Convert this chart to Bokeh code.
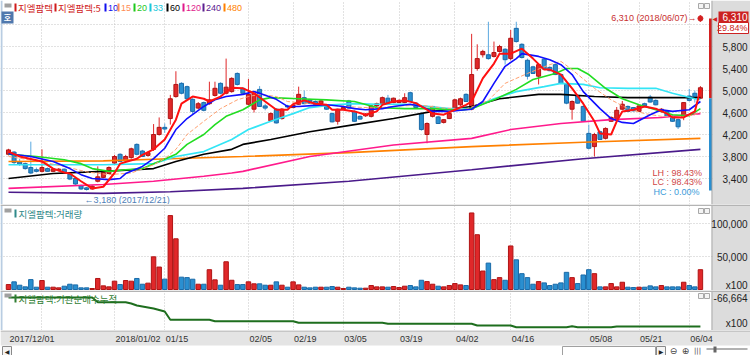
from bokeh.plotting import figure
from bokeh.layouts import column
from bokeh.models import Range1d, Grid, FixedTicker, Label, BoxAnnotation, ColumnDataSource
from bokeh.core.properties import value
from bokeh.embed import file_html
from bokeh.resources import INLINE

# ---------------- data ----------------
date_tick_idx = [0, 19, 28, 43, 51, 60, 70, 80, 90, 104, 113, 122]
date_labels = ["2017/12/01", "2018/01/02", "01/15", "02/05", "02/19", "03/05",
               "03/19", "04/02", "04/16", "05/08", "05/21", "06/04"]
grid_idx = [6, 19, 28, 43, 51, 60, 70, 80, 90, 104, 113, 122]

opens = [
    3840, 3880, 3700, 3670, 3600, 3560, 3530, 3580, 3530, 3550,
    3570, 3480, 3400, 3270, 3230, 3210, 3350, 3420, 3490, 3680,
    3840, 3720, 3780, 4020, 3900, 3820, 3930, 4200, 4330, 4490,
    4890, 5130, 5070, 4840, 4680, 4780, 4760, 4910, 5130, 4950,
    4980, 5310, 5040, 4750, 4660, 5020, 4720, 4450, 4660, 4490,
    4720, 4690, 4750, 4870, 4830, 4800, 4760, 4710, 4580, 4440,
    4660, 4810, 4620, 4530, 4540, 4530, 4720, 4760, 4860, 4780,
    4780, 4780, 4960, 4770, 4580, 4200, 4530, 4520, 4420, 4490,
    4670, 4740, 4930, 4660, 5400, 5650, 5650, 5620, 5710, 5750,
    5580, 6130, 5840, 5550, 5430, 5260, 5570, 5420, 5470, 5290,
    5110, 4660, 4900, 4710, 4220, 3980, 4250, 4130, 4440, 4490,
    4660, 4710, 4690, 4620, 4760, 4880, 4820, 4620, 4620, 4530,
    4470, 4530, 4900, 4950, 4860]
highs = [
    3940, 3900, 3760, 3690, 4070, 3600, 3930, 3600, 3590, 3590,
    3580, 3520, 3420, 3290, 3250, 3280, 3620, 3530, 3620, 3830,
    3860, 3830, 3960, 4040, 3920, 3890, 4390, 4510, 4400, 4920,
    5350, 5150, 5090, 4860, 4790, 4800, 5160, 5160, 5150, 5580,
    5240, 5330, 5060, 5210, 4960, 5080, 4760, 4600, 4680, 4680,
    4740, 4750, 5070, 5000, 4850, 4820, 4830, 4730, 4600, 4670,
    4710, 4830, 4640, 4550, 4590, 4730, 4780, 4890, 4920, 4870,
    4840, 4950, 4980, 4790, 4600, 4420, 4720, 4540, 4480, 4600,
    4850, 4870, 4950, 6030, 5840, 5740, 6250, 5890, 5830, 5770,
    6100, 6250, 5860, 5580, 5450, 5490, 5590, 5440, 5490, 5310,
    5120, 4820, 4920, 4730, 4380, 4230, 4270, 4330, 4530, 4700,
    4810, 4730, 4700, 4730, 4780, 4920, 4840, 4680, 4640, 4550,
    4490, 4790, 5030, 5000, 5080]
lows = [
    3820, 3660, 3630, 3560, 3480, 3510, 3510, 3520, 3520, 3530,
    3490, 3370, 3280, 3190, 3180, 3200, 3330, 3410, 3480, 3660,
    3700, 3700, 3760, 3820, 3790, 3800, 3900, 4180, 4230, 4380,
    4870, 4930, 4830, 4560, 4660, 4620, 4740, 4890, 4930, 4930,
    4960, 5090, 4930, 4730, 4600, 4700, 4640, 4430, 4400, 4470,
    4680, 4680, 4740, 4750, 4760, 4720, 4750, 4650, 4420, 4380,
    4650, 4670, 4430, 4470, 4520, 4510, 4700, 4750, 4760, 4770,
    4770, 4770, 4790, 4680, 4270, 4040, 4510, 4390, 4400, 4480,
    4650, 4720, 4790, 4640, 5360, 5600, 5560, 5600, 5690, 5470,
    5550, 5870, 5580, 5200, 5300, 5110, 5380, 5350, 5280, 5120,
    4750, 4470, 4760, 4430, 3930, 3800, 4100, 4110, 4430, 4480,
    4650, 4610, 4620, 4610, 4710, 4780, 4730, 4600, 4520, 4430,
    4300, 4460, 4800, 4780, 4850]
closes = [
    3920, 3690, 3660, 3580, 3500, 3530, 3600, 3530, 3570, 3570,
    3500, 3390, 3300, 3210, 3200, 3260, 3430, 3510, 3600, 3800,
    3710, 3800, 3940, 3840, 3800, 3870, 4200, 4330, 4300, 4850,
    5110, 4950, 4850, 4620, 4760, 4640, 4830, 5040, 4950, 5060,
    5220, 5110, 4950, 4930, 4950, 4710, 4680, 4580, 4410, 4660,
    4700, 4730, 4930, 4760, 4770, 4740, 4810, 4660, 4430, 4660,
    4690, 4680, 4440, 4480, 4570, 4720, 4760, 4870, 4770, 4860,
    4820, 4870, 4800, 4690, 4290, 4400, 4710, 4400, 4470, 4580,
    4830, 4850, 4800, 5290, 5580, 5710, 5580, 5690, 5800, 5560,
    5950, 5890, 5600, 5260, 5310, 5470, 5390, 5360, 5290, 5130,
    4770, 4800, 4770, 4440, 3950, 4200, 4110, 4310, 4510, 4640,
    4750, 4620, 4630, 4720, 4720, 4790, 4740, 4660, 4530, 4440,
    4340, 4780, 4820, 4860, 5050]

volumes = [  # x100 shares
    7500, 11600, 6500, 4000, 15000, 3500, 13600, 3500, 3500, 2500,
    5000, 8000, 7000, 2500, 2500, 1500, 16700, 5500, 4000, 12600,
    7500, 13600, 12600, 16700, 8000, 9600, 49500, 34000, 15700, 112000,
    76800, 18700, 18000, 15600, 8000, 8000, 30000, 14600, 6500, 42000,
    14000, 7500, 7500, 11600, 8600, 8600, 6500, 6500, 11600, 6500,
    3500, 11600, 7000, 3500, 2500, 3500, 3500, 3500, 4500, 3500,
    1500, 3500, 2500, 2000, 2000, 6000, 4000, 4000, 3500, 4500,
    3000, 5000, 6000, 4000, 14000, 12000, 8000, 5000, 4000, 6000,
    9000, 7000, 6000, 116000, 83000, 28000, 40000, 15000, 18000, 14000,
    66000, 45000, 24000, 18000, 8000, 12000, 10000, 6000, 8000, 10000,
    26000, 18000, 9000, 22000, 30000, 24000, 4000, 4000, 9000, 4000,
    11000, 3500, 3000, 3500, 3500, 5500, 4000, 6000, 4000, 4000,
    4000, 11000, 6000, 4000, 30000]

inst_cum = [  # institutional cumulative net buying, x100
    -66664, -66664, -66664, -66664, -66664, -66664, -66664, -66664, -66664, -66664,
    -66664, -66664, -66664, -66664, -66664, -66664, -76060, -76060, -76060, -76060,
    -76060, -76060, -78660, -82660, -84660, -86660, -88660, -91660, -94660, -111260,
    -111260, -111260, -111260, -111260, -111260, -111260, -111260, -114060, -114060, -114060,
    -114060, -114060, -114060, -114060, -114060, -114060, -114060, -114060, -114060, -114060,
    -114060, -114060, -117260, -117260, -117260, -117260, -117260, -117260, -117260, -117260,
    -117260, -117260, -117260, -117260, -117260, -117260, -117260, -117260, -119260, -119260,
    -119260, -119260, -119260, -119260, -119260, -119260, -119260, -119260, -119260, -119260,
    -119260, -119260, -119260, -119260, -122660, -122660, -122660, -122660, -122660, -122660,
    -122660, -126060, -126060, -126060, -126060, -126060, -126060, -126060, -126060, -126060,
    -126060, -124060, -126060, -126060, -126060, -126060, -126060, -126060, -126060, -124660,
    -124660, -124660, -124660, -124660, -124660, -124660, -124660, -124660, -124660, -124660,
    -124660, -124660, -124660, -124660, -124660]

ma5_idx = [0, 2, 6, 8, 10, 11, 13, 15, 17, 19, 20, 23, 24, 26, 28, 30, 31, 33, 35, 36,
           38, 40, 42, 44, 46, 48, 50, 51, 53, 55, 57, 58, 60, 62, 64, 66, 67, 69, 71, 73,
           75, 76, 78, 80, 82, 83, 85, 87, 88, 90, 92, 94, 96, 97, 99, 101, 103, 105, 106, 108,
           109, 110, 112, 114, 116, 118, 119, 121, 123, 124]
ma5 = [3890, 3800, 3710, 3580, 3510, 3490, 3350, 3220, 3250, 3500, 3670, 3760, 3830, 3930, 4110,
       4470, 4760, 4890, 4850, 4800, 4890, 5050, 5040, 4950, 4800, 4650, 4650, 4750, 4820, 4760,
       4740, 4650, 4650, 4620, 4560, 4620, 4740, 4800, 4820, 4770, 4650, 4580, 4560, 4650, 4740,
       4800, 5220, 5490, 5670, 5670, 5760, 5580, 5380, 5380, 5290, 5040, 4760, 4440, 4220, 4200,
       4440, 4620, 4650, 4710, 4670, 4580, 4510, 4510, 4620, 5020]
ma10_idx = [0, 4, 8, 11, 13, 15, 18, 20, 21, 24, 26, 28, 30, 32, 35, 37, 39, 42, 44, 45,
            48, 50, 52, 55, 57, 60, 62, 64, 67, 69, 72, 74, 76, 79, 81, 83, 85, 87, 89, 91,
            92, 95, 97, 99, 101, 103, 106, 108, 110, 112, 115, 117, 119, 122, 124]
ma10 = [3850, 3800, 3710, 3580, 3470, 3400, 3380, 3400, 3490, 3620, 3760, 3950, 4290, 4490, 4710,
        4830, 4890, 4930, 4980, 4950, 4840, 4710, 4710, 4730, 4740, 4710, 4670, 4650, 4670, 4710,
        4750, 4710, 4620, 4620, 4640, 4660, 4800, 5130, 5440, 5580, 5670, 5620, 5560, 5470, 5290,
        4980, 4670, 4490, 4420, 4400, 4560, 4650, 4620, 4650, 4800]
ma15_idx = [0, 5, 10, 14, 18, 22, 26, 28, 30, 32, 35, 38, 41, 43, 45, 48, 50, 54, 58, 62,
            66, 70, 74, 78, 82, 86, 89, 93, 97, 99, 101, 105, 108, 111, 114, 117, 120, 123, 124]
ma15 = [3800, 3720, 3620, 3520, 3470, 3500, 3650, 3760, 3930, 4200, 4440, 4670, 4830, 4890, 4930,
        4890, 4800, 4760, 4730, 4700, 4680, 4720, 4730, 4680, 4660, 4820, 5130, 5310, 5470, 5530,
        5380, 5040, 4830, 4670, 4580, 4530, 4510, 4560, 4600]
ma20_idx = [0, 5, 10, 13, 15, 18, 21, 24, 27, 30, 32, 35, 37, 39, 42, 43, 45, 47, 52, 57,
            62, 66, 71, 76, 81, 83, 87, 91, 94, 98, 100, 102, 104, 107, 110, 113, 116, 119, 122, 124]
ma20 = [3840, 3800, 3740, 3670, 3580, 3530, 3560, 3580, 3710, 3840, 4020, 4200, 4380, 4530, 4650,
        4710, 4830, 4870, 4850, 4830, 4800, 4690, 4670, 4670, 4640, 4670, 4830, 5020, 5200, 5310,
        5400, 5400, 5290, 5040, 4850, 4740, 4650, 4560, 4540, 4670]
ma33_idx = [0, 8, 17, 26, 30, 35, 40, 43, 47, 51, 54, 58, 62, 66, 71, 75, 79, 83, 87, 91,
            96, 99, 103, 106, 111, 116, 119, 123, 124]
ma33 = [3650, 3650, 3650, 3670, 3800, 3890, 4110, 4290, 4440, 4580, 4690, 4740, 4760, 4750, 4750,
        4710, 4670, 4670, 4850, 4980, 5070, 5130, 5110, 5050, 5040, 5040, 4950, 4850, 4840]
ma60_idx = [0, 8, 17, 26, 30, 35, 40, 42, 47, 54, 62, 69, 76, 83, 88, 95, 99, 105, 111, 117, 124]
ma60 = [3400, 3490, 3530, 3580, 3710, 3840, 3930, 4020, 4110, 4250, 4380, 4490, 4620, 4710, 4850,
        4930, 4930, 4890, 4870, 4870, 4870]
ma120_idx = [0, 17, 26, 35, 40, 42, 54, 69, 83, 90, 99, 108, 117, 124]
ma120 = [3220, 3290, 3350, 3440, 3500, 3530, 3800, 4010, 4130, 4290, 4400, 4470, 4510, 4580]
ma240_idx = [0, 17, 29, 42, 61, 83, 103, 124]
ma240 = [3150, 3130, 3160, 3220, 3350, 3560, 3760, 3930]
ma480_idx = [0, 17, 29, 42, 61, 83, 103, 124]
ma480 = [3710, 3720, 3760, 3800, 3870, 3980, 4060, 4130]

price_ticks = [5800, 5400, 5000, 4600, 4200, 3800, 3400]
price_grid = [3400, 3800, 4200, 4600, 5000, 5400, 5800, 6200]
vol_ticks = [100000, 50000]
last_price = 6310
last_change = "29.84%"
last_date = "2018/06/07"
prev_close = 4860
low_date = "2017/12/21"
stats = [("LH :  98.43%", "#d04848"), ("LC :  98.43%", "#d04848"), ("HC :   0.00%", "#3a9ad9")]

legend_items = [("지엘팜텍", "#d01c1c"), ("지엘팜텍:5", "#d01c1c"), ("10", "#1010ee"),
                ("15", "#ff8c55"), ("20", "#1ec81e"), ("33", "#18c8dc"), ("60", "#000000"),
                ("120", "#e0188c"), ("240", "#5a2090"), ("480", "#ff8000")]

# ---------------- layout helpers ----------------
W = 750
PX_PER_DAY = 5.58
X_AT_PX0 = -8 / PX_PER_DAY


def xd(px):
    return X_AT_PX0 + px / PX_PER_DAY


x_range = Range1d(xd(0), xd(W))

H_MAIN, H_VOL, H_INST, H_BOT = 204, 86, 40, 25
PRICE_PER_PX = 400 / 22.0
PRICE_AT_TOP = 5800 + 46 * PRICE_PER_PX
VOL_PER_PX = 50000 / 33.0
INST_PER_PX = 2000.0


def ym(py):
    return PRICE_AT_TOP - py * PRICE_PER_PX


def yv(py):
    return (289 - py) * VOL_PER_PX


def yi(py):
    return inst_cum[0] - (py - 297) * INST_PER_PX


def yb(py):
    return 355 - py


def mkfig(h, lo, hi):
    f = figure(width=W, height=h, x_range=x_range, y_range=Range1d(lo, hi),
               x_axis_type=None, y_axis_type=None, tools="", toolbar_location=None,
               output_backend="svg", min_border=0, min_border_left=0, min_border_right=0,
               min_border_top=0, min_border_bottom=0, outline_line_color=None,
               background_fill_color="white", border_fill_color="white")
    return f


def box(f, yf, x0, x1, y0, y1, fill, line=None, lw=1):
    f.add_layout(BoxAnnotation(left=xd(x0), right=xd(x1), top=yf(y0), bottom=yf(y1),
                               fill_color=fill, fill_alpha=1.0 if fill else 0.0,
                               line_color=line, line_alpha=1.0 if line else 0.0,
                               line_width=lw))


def txt(f, x, y, text, color, size=10, font="Liberation Sans", align="left",
        style="normal", baseline="middle", xo=0, yo=0):
    f.add_layout(Label(x=x, y=y, text=text, text_color=color, text_font_size=f"{size}px",
                       text_font=font, text_align=align, text_baseline=baseline,
                       text_font_style=style, x_offset=xo, y_offset=yo))


def vgrid(f):
    f.add_layout(Grid(dimension=0, ticker=FixedTicker(ticks=grid_idx),
                      grid_line_color="#c4c4c4", grid_line_dash="1 2"))


def right_column(f, yf, top_px, bot_px):
    box(f, yf, 712, 750, top_px, bot_px, "#dcdcdc")
    box(f, yf, 711, 712, top_px, bot_px, "#9c9c9c")
    box(f, yf, 0, 2, top_px, bot_px, "#b9cde2")


def pane_icons(f, yf, y_top):
    box(f, yf, 4, 11, y_top, y_top + 4, "#a0a0a0")
    box(f, yf, 698, 703, y_top, y_top + 5, "#f4f4f4", "#a8a8a8")
    box(f, yf, 704, 709, y_top, y_top + 5, "#f4f4f4", "#a8a8a8")


CJK = "Noto Sans CJK KR"
RED_FILL, RED_EDGE = "#e0282a", "#b01414"
BLUE_FILL, BLUE_EDGE, BLUE_WICK = "#2a8fd0", "#1a6aa8", "#5aa8e0"

n = len(closes)
idx = list(range(n))
is_up = [c >= o for o, c in zip(opens, closes)]
src = ColumnDataSource(dict(
    x=idx, h=highs, l=lows,
    top=[max(o, c) for o, c in zip(opens, closes)],
    bot=[min(o, c) for o, c in zip(opens, closes)],
    fill=[RED_FILL if u else BLUE_FILL for u in is_up],
    edge=[RED_EDGE if u else BLUE_EDGE for u in is_up],
    wick=[RED_FILL if u else BLUE_WICK for u in is_up],
    vol=volumes,
))

# ---------------- main price pane ----------------
main = mkfig(H_MAIN, ym(H_MAIN), ym(0))
vgrid(main)
main.add_layout(Grid(dimension=1, ticker=FixedTicker(ticks=price_grid),
                     grid_line_color="#c4c4c4", grid_line_dash="1 2"))
main.segment(x0="x", y0="l", x1="x", y1="h", line_color="wick", line_width=1, source=src)
main.vbar(x="x", width=0.72, top="top", bottom="bot", fill_color="fill",
          line_color="edge", line_width=1, source=src)

for xs, ys, col, lw, dash in [
    (ma480_idx, ma480, "#ff8000", 1.6, "solid"),
    (ma240_idx, ma240, "#4a1a8a", 1.6, "solid"),
    (ma120_idx, ma120, "#ff1a8c", 1.6, "solid"),
    (ma60_idx, ma60, "#000000", 1.6, "solid"),
    (ma33_idx, ma33, "#33e5f5", 1.7, "solid"),
    (ma20_idx, ma20, "#22dd22", 1.6, "solid"),
    (ma15_idx, ma15, "#ffa070", 1.0, "4 2"),
    (ma10_idx, ma10, "#1010ff", 1.6, "solid"),
    (ma5_idx, ma5, "#ff1010", 2.0, "solid"),
]:
    main.line(xs, ys, line_color=col, line_width=lw, line_dash=dash)

last_i = n - 1
low_i = lows.index(min(lows))
# highest-price marker of the last day
main.segment(x0=[last_i], x1=[last_i], y0=[last_price - 60], y1=[last_price + 60],
             line_color="#d42020", line_width=1.5)
main.scatter([last_i], [last_price], marker="circle", size=5, color="#d42020")
# current-price range bar at the right edge of the pane
main.segment(x0=[xd(710)], x1=[xd(710)], y0=[prev_close], y1=[last_price],
             line_color="#d42020", line_width=3)
main.segment(x0=[xd(710)], x1=[xd(710)], y0=[min(lows)], y1=[prev_close],
             line_color="#2a8fd0", line_width=3)

right_column(main, ym, 0, H_MAIN)
pane_icons(main, ym, 3)
# "호" badge
box(main, ym, 1, 13, 11, 23, "#4f78ad")
txt(main, xd(7), ym(17), "호", "white", 8, CJK, "center", "bold")
# legend
legend_px = [14, 54, 104, 117, 133, 149, 166, 182, 202, 223]
for (label, col), px in zip(legend_items, legend_px):
    box(main, ym, px, px + 2, 3, 11, col)
    font = CJK if any(ord(ch) > 255 for ch in label) else "Liberation Sans"
    txt(main, xd(px + 3.5), ym(7), label, col, 9.5 if font == CJK else 9, font)

txt(main, low_i, min(lows), f"\u2190{min(lows):,} ({low_date})", "#4f7fb8", 9,
    xo=-2, yo=-9)
txt(main, last_i, last_price, f"{last_price:,} ({last_date})\u2192", "#c83030", 9,
    align="right", xo=-4)
for k, (s, col) in enumerate(stats):
    txt(main, xd(704), ym(172 + 9.5 * k), s, col, 9, align="right")

for v in price_ticks:
    txt(main, xd(747), v, f"{v:,}", "#222222", 10, align="right")
box(main, ym, 718, 748, 11, 22, "#cc2222")
txt(main, xd(747), ym(16.5), f"{last_price:,}", "white", 10, align="right")
box(main, ym, 718, 748, 22, 33, "white", "#cc2222")
txt(main, xd(747), ym(27.5), last_change, "#cc2222", 9, align="right")
txt(main, xd(712), last_price, "\u25c0", "#d42020", 6, "DejaVu Sans")

# ---------------- volume pane ----------------
vol = mkfig(H_VOL, yv(290), yv(204))
vgrid(vol)
vol.add_layout(Grid(dimension=1, ticker=FixedTicker(ticks=vol_ticks),
                    grid_line_color="#c4c4c4", grid_line_dash="1 2"))
vol.vbar(x="x", width=0.8, top="vol", bottom=0, fill_color="fill", line_color="edge",
         line_width=1, source=src)
right_column(vol, yv, 204, 290)
box(vol, yv, 0, 750, 204, 205.5, "#b4b4b4")
pane_icons(vol, yv, 208)
box(vol, yv, 14, 16, 209, 217, "#2f8a8a")
txt(vol, xd(18), yv(213), "지엘팜텍:거래량", "#2f8a8a", 9.5, CJK)
for v in vol_ticks:
    txt(vol, xd(747), v, f"{v:,}", "#222222", 10, align="right")
txt(vol, xd(747), yv(285), "x100", "#222222", 10, align="right")

# ---------------- institutional cumulative pane ----------------
inst = mkfig(H_INST, yi(330), yi(290))
vgrid(inst)
inst.line(idx, inst_cum, line_color="#1e6e1e", line_width=2)
right_column(inst, yi, 290, 330)
box(inst, yi, 0, 750, 290, 291.5, "#b4b4b4")
pane_icons(inst, yi, 293)
box(inst, yi, 14, 16, 294, 302, "#2e7d32")
txt(inst, xd(18), yi(298), "지엘팜텍:기관순매수누적", "#2e7d32", 9.5, CJK)
txt(inst, xd(747), inst_cum[0], f"{inst_cum[0]:,}", "#222222", 10, align="right")
txt(inst, xd(747), yi(323), "x100", "#222222", 10, align="right")

# ---------------- date axis + scroll row ----------------
bot = mkfig(H_BOT, yb(355), yb(330))
box(bot, yb, 0, 750, 330, 345, "#e4e4e4")
box(bot, yb, 0, 750, 330, 331, "#a8a8a8")
date_src = ColumnDataSource(dict(x=date_tick_idx, t=date_labels))
bot.text(x="x", y=yb(338), text="t", source=date_src, text_align="left",
         text_baseline="middle", text_font=value("Liberation Sans"),
         text_font_size="9px", text_color="#333333", x_offset=1, level="overlay")
box(bot, yb, 2, 11, 346, 355, "#f4f4f4", "#8a8a8a")
txt(bot, xd(6.5), yb(350.5), "\u25c0", "#222222", 6, "DejaVu Sans", "center")
box(bot, yb, 562, 655, 346, 355, "white", "#a0a0a0")
box(bot, yb, 656, 665, 346, 355, "#f4f4f4", "#8a8a8a")
txt(bot, xd(660.5), yb(350.5), "\u25b6", "#222222", 6, "DejaVu Sans", "center")
txt(bot, xd(673), yb(350.5), "\u2296", "#444444", 9, "DejaVu Sans", "center")
txt(bot, xd(685), yb(350.5), "\u2295", "#444444", 9, "DejaVu Sans", "center")
txt(bot, xd(697), yb(350.5), "|||", "#444444", 7, "DejaVu Sans", "center")
box(bot, yb, 706, 747, 348, 349, "#666666")
box(bot, yb, 713, 716, 346, 352, "#666666")

layout = column(main, vol, inst, bot, spacing=0)
open("out.html", "w").write(file_html(layout, INLINE))
